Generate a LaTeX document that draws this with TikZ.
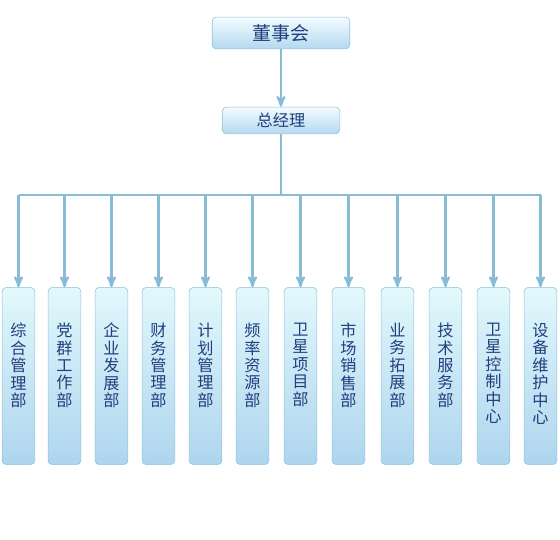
\documentclass[tikz,border=0pt]{standalone}
\usepackage{fontspec}
\setmainfont{Noto Sans CJK SC}
\usepackage{tikz}
\usetikzlibrary{positioning}
\usetikzlibrary{arrows}
\definecolor{lineblue}{HTML}{88BCD6}
\definecolor{boxedge}{HTML}{8EC2DC}
\definecolor{textblue}{HTML}{1F3F7E}
\definecolor{boxtop}{HTML}{F4FCFF}
\definecolor{boxbot}{HTML}{B3D9EF}
\definecolor{depttop}{HTML}{E2F8FC}
\definecolor{deptmid}{HTML}{D2EFF8}
\definecolor{deptbot}{HTML}{AED5EE}

\begin{document}
\begin{tikzpicture}[x=0.025cm,y=-0.025cm,
    box/.style={draw=boxedge,rounded corners=3pt,top color=boxtop,bottom color=boxbot,text=textblue},
    dept/.style={draw=boxedge,rounded corners=3pt,minimum width=23.4pt,minimum height=126pt,
      top color=depttop,middle color=deptmid,bottom color=deptbot},
    dlabel/.style={anchor=north,yshift=-22pt,align=center,text=textblue,
      font=\fontsize{11.5pt}{12.4pt}\selectfont},
    link/.style={draw=lineblue,line width=1.6pt},
    >=stealth']
  \useasboundingbox (0,0) rectangle (560,540);
  % top of the chart
  \node (B) [box,minimum width=97.8pt,minimum height=22.7pt,font=\fontsize{13.5pt}{15pt}\selectfont] at (281,33) {董事会};
  \node (GM) [box,minimum width=83.6pt,minimum height=19.1pt,font=\fontsize{11.5pt}{13pt}\selectfont] at (281,120.5) {总经理};
  \coordinate (L) at (18.5,195);
  \coordinate (R) at (540.5,195);
  % departments
  \node (D1) [dept,label={[dlabel]north:{综\\合\\管\\理\\部}}] at (18.5,376) {};
  \node (D2) [dept,label={[dlabel]north:{党\\群\\工\\作\\部}}] at (64.5,376) {};
  \node (D3) [dept,label={[dlabel]north:{企\\业\\发\\展\\部}}] at (111.5,376) {};
  \node (D4) [dept,label={[dlabel]north:{财\\务\\管\\理\\部}}] at (158.5,376) {};
  \node (D5) [dept,label={[dlabel]north:{计\\划\\管\\理\\部}}] at (205.5,376) {};
  \node (D6) [dept,label={[dlabel]north:{频\\率\\资\\源\\部}}] at (252.5,376) {};
  \node (D7) [dept,label={[dlabel]north:{卫\\星\\项\\目\\部}}] at (300.5,376) {};
  \node (D8) [dept,label={[dlabel]north:{市\\场\\销\\售\\部}}] at (348.5,376) {};
  \node (D9) [dept,label={[dlabel]north:{业\\务\\拓\\展\\部}}] at (397.5,376) {};
  \node (D10) [dept,label={[dlabel]north:{技\\术\\服\\务\\部}}] at (445.5,376) {};
  \node (D11) [dept,label={[dlabel]north:{卫\\星\\控\\制\\中\\心}}] at (493.5,376) {};
  \node (D12) [dept,label={[dlabel]north:{设\\备\\维\\护\\中\\心}}] at (540.5,376) {};
  % connectors
  \draw [link,->] (B) -- (GM);
  \draw [link] (GM.south) -- (GM.south |- L);
  \draw [link] (L) -- (R);
  \foreach \i in {1,...,12}
    \draw [link,->] (D\i.north |- L) -- (D\i.north);
\end{tikzpicture}
\end{document}
